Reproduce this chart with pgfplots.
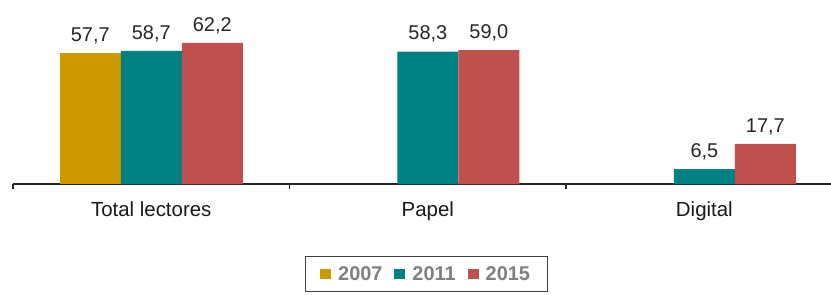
\documentclass[border=0pt]{standalone}
\usepackage{pgfplots}
\pgfplotsset{compat=1.18}
\usepackage{fontspec}
\setmainfont{Liberation Sans}
\definecolor{cA}{RGB}{204,153,0}
\definecolor{cB}{RGB}{0,128,128}
\definecolor{cC}{RGB}{192,80,77}
\definecolor{valtxt}{RGB}{38,38,38}
\begin{document}
\begin{tikzpicture}
\path[use as bounding box] (0,0) rectangle (831bp,295bp);
\begin{axis}[
  at={(13bp,111bp)}, anchor=south west,
  scale only axis, width=818bp, height=184bp,
  xmin=-0.5, xmax=2.458, ymin=0, ymax=81.06,
  ybar=0pt, bar width=61bp,
  axis x line=bottom, axis y line=none,
  axis line style={-, line width=1.8bp, color=black!85},
  xtick={0,1,2},
  xticklabels={Total lectores, Papel, Digital},
  minor xtick={-0.5,0.5,1.5},
  major tick length=0pt, minor tick length=5bp,
  tick align=outside,
  tick style={line width=1.2bp, color=black!85},
  xticklabel style={font=\fontsize{20.5}{24}\selectfont, inner sep=0pt, yshift=-18bp, text=black!90},
  clip=false,
  nodes near coords,
  every node near coord/.append style={font=\fontsize{20}{24}\selectfont, text=valtxt, anchor=south, inner sep=0pt, yshift=9bp,
    /pgf/number format/.cd, fixed, fixed zerofill, precision=1, use comma, assume math mode=true},
  legend columns=3,
  legend image code/.code={\fill[#1] (0bp,-5bp) rectangle (11bp,5bp);},
  legend style={at={(axis description cs:0.505,-0.391)}, anchor=north,
    draw=black!75, line width=0.8bp, inner xsep=15bp, inner ysep=8bp,
    font=\fontsize{20}{24}\selectfont\bfseries, text=black!50,
    /tikz/every odd column/.append style={column sep=5bp},
    /tikz/every even column/.append style={column sep=10bp}},
]
\addplot[fill=cA, draw=none] coordinates {(0,57.7)};
\addplot[fill=cB, draw=none] coordinates {(0,58.7) (1,58.3) (2,6.5)};
\addplot[fill=cC, draw=none] coordinates {(0,62.2) (1,59.0) (2,17.7)};
\legend{2007,2011,2015}
\end{axis}
\end{tikzpicture}
\end{document}
